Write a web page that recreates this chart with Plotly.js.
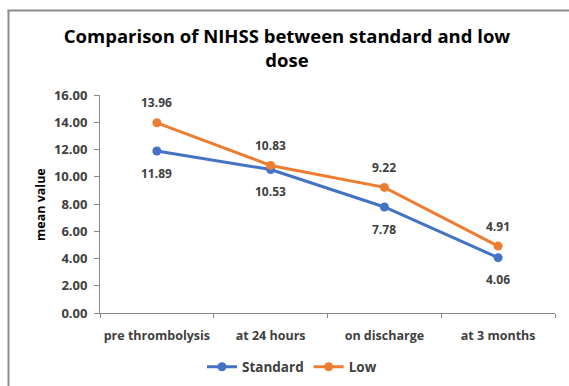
<!DOCTYPE html>
<html>
<head>
<meta charset="utf-8">
<script src="https://cdn.plot.ly/plotly-3.0.1.min.js"></script>
<style>html,body{margin:0;padding:0;background:#fff;}#chart{width:569px;height:386px;}</style>
</head>
<body>
<div id="chart"></div>
<script>
const categories = ["pre thrombolysis", "at 24 hours", "on discharge", "at 3 months"];
const standardValues = [11.89, 10.53, 7.78, 4.06];
const lowValues = [13.96, 10.83, 9.22, 4.91];
const yTickVals = [0, 2, 4, 6, 8, 10, 12, 14, 16];
const yTickText = yTickVals.map(v => v.toFixed(2));

const L = 100, R = 14, T = 95, B = 73, W = 569, H = 386;
const pw = W - L - R, ph = H - T - B;
const px = x => (x - L) / pw;
const py = y => (H - B - y) / ph;

const blue = '#4472C4', orange = '#ED7D31';
const fam = '"Open Sans", Lato, sans-serif';
const txt = '#404040';

const traces = [
  {x: categories, y: standardValues, name: 'Standard', type: 'scatter', mode: 'lines+markers',
   line: {color: blue, width: 3}, marker: {color: blue, size: 9, symbol: 'circle'}},
  {x: categories, y: lowValues, name: 'Low', type: 'scatter', mode: 'lines+markers',
   line: {color: orange, width: 3}, marker: {color: orange, size: 9, symbol: 'circle'}}
];

const annotations = [];
categories.forEach((c, i) => {
  annotations.push({x: c, y: lowValues[i], xref: 'x', yref: 'y', text: lowValues[i].toFixed(2),
    showarrow: false, yshift: 20, font: {family: fam, size: 12, color: txt, weight: 'bold'}});
  annotations.push({x: c, y: standardValues[i], xref: 'x', yref: 'y', text: standardValues[i].toFixed(2),
    showarrow: false, yshift: -22, font: {family: fam, size: 12, color: txt, weight: 'bold'}});
});
annotations.push({xref: 'paper', yref: 'paper', x: px(40), y: py(205), xanchor: 'center', yanchor: 'middle',
  text: 'mean value', textangle: -90, showarrow: false,
  font: {family: fam, size: 12.5, color: '#000', weight: 'bold'}});

const layout = {
  width: W, height: H,
  margin: {l: L, r: R, t: T, b: B, pad: 0},
  paper_bgcolor: '#fff', plot_bgcolor: '#fff',
  title: {text: 'Comparison of NIHSS between standard and low<br>dose', x: 287 / W, xanchor: 'center',
    xref: 'container', yref: 'container', y: (H - 43) / H, yanchor: 'middle',
    font: {family: fam, size: 18.5, color: '#000', weight: 'bold'}},
  xaxis: {type: 'category', range: [-0.5, 3.5], tickson: 'boundaries', ticks: 'outside', ticklen: 4,
    tickangle: 0, automargin: false, ticklabelstandoff: 11,
    tickcolor: '#888', showline: true, linecolor: '#888', linewidth: 1, showgrid: false, zeroline: false,
    tickfont: {family: fam, size: 12.5, color: txt, weight: 'bold'}, fixedrange: true},
  yaxis: {range: [0, 16], tickvals: yTickVals, ticktext: yTickText, ticks: 'outside', ticklen: 5,
    ticklabelstandoff: 4, automargin: false,
    tickcolor: '#888', showline: true, linecolor: '#888', linewidth: 1, showgrid: false, zeroline: false,
    tickfont: {family: fam, size: 13, color: txt, weight: 'bold'}},
  showlegend: true,
  legend: {orientation: 'h', xref: 'container', yref: 'container', x: 292 / W, xanchor: 'center',
    y: (H - 367) / H, yanchor: 'middle',
    font: {family: fam, size: 13.5, color: txt, weight: 'bold'}, itemwidth: 30, tracegroupgap: 0},
  annotations: annotations,
  shapes: [
    {type: 'line', xref: 'paper', yref: 'paper', x0: px(8.5), x1: px(8.5), y0: py(10), y1: py(H + 5),
     line: {color: '#8c8c8c', width: 2}},
    {type: 'line', xref: 'paper', yref: 'paper', x0: px(7.5), x1: px(W + 5), y0: py(10.5), y1: py(10.5),
     line: {color: '#8c8c8c', width: 2}}
  ]
};

Plotly.newPlot('chart', traces, layout, {displayModeBar: false, staticPlot: true});
</script>
</body>
</html>
